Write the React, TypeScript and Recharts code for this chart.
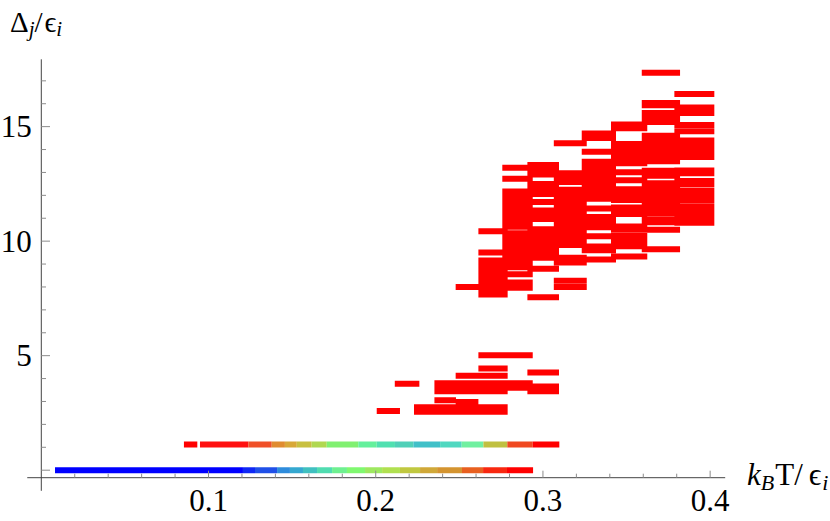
import { ComposedChart, XAxis, YAxis, Line, ReferenceLine } from 'recharts'

// tick values
const xTicks = [0.02, 0.04, 0.06, 0.08, 0.1, 0.12, 0.14, 0.16, 0.18, 0.2, 0.22, 0.24, 0.26, 0.28, 0.3, 0.32, 0.34, 0.36, 0.38, 0.4]
const xMajor = [0.1, 0.2, 0.3, 0.4]
const yTicks = [0, 1, 2, 3, 4, 5, 6, 7, 8, 9, 10, 11, 12, 13, 14, 15, 16, 17]
const yMajor = [0, 5, 10, 15]
const yLabelled = [5, 10, 15]

// temperature columns (bar left / right edge in kBT/eps)
const columnStart = [0.2006, 0.2114, 0.2229, 0.2351, 0.2478, 0.2614, 0.2757, 0.2907, 0.3065, 0.3232, 0.3407, 0.3591, 0.3786]
const columnEnd = [0.2145, 0.2261, 0.2351, 0.248, 0.2614, 0.2789, 0.2939, 0.3096, 0.3262, 0.3437, 0.3624, 0.382, 0.4025]

// gap levels per column
const colA = [2.58]
const colB = [3.77]
const colC = [2.75, 2.55]
const colD = [3.8, 3.6, 3.45, 3.05, 2.75, 2.55]
const colE = [8.0, 4.12, 3.8, 3.6, 3.45, 2.98, 2.75, 2.55]
const colF = [10.43, 9.5, 9.15, 8.93, 8.71, 8.49, 8.27, 8.05, 7.83, 7.67, 5.02, 4.44, 4.12, 3.8, 3.6, 3.45, 2.75, 2.55]
const colG = [13.2, 12.73, 12.17, 11.95, 11.73, 11.51, 11.29, 11.07, 10.85, 10.63, 10.35, 10.13, 9.91, 9.69, 9.47, 9.25, 9.03, 8.86, 8.55, 8.2, 7.97, 5.02, 3.8, 3.6]
const colH = [13.33, 13.1, 12.91, 12.5, 12.28, 12.06, 11.71, 11.34, 11.12, 10.97, 10.52, 10.3, 10.08, 9.86, 9.64, 9.42, 9.27, 8.8, 7.55, 4.27, 3.65, 3.45]
const colI = [14.27, 12.97, 12.75, 12.58, 12.24, 12.02, 11.8, 11.58, 11.36, 11.14, 10.92, 10.7, 10.48, 10.26, 10.04, 9.83, 9.27, 9.07, 8.27, 8.0]
const colJ = [14.7, 14.5, 13.9, 13.47, 13.25, 13.03, 12.81, 12.59, 12.37, 12.15, 11.93, 11.85, 11.43, 11.05, 10.83, 10.61, 10.21, 9.77, 9.6, 9.2]
const colK = [15.09, 14.93, 14.24, 14.02, 13.8, 13.58, 13.4, 13.01, 12.66, 12.27, 12.05, 11.8, 11.47, 11.25, 11.19, 10.64, 10.5, 10.22, 10.0, 9.78, 9.33]
const colL = [17.35, 16.03, 15.93, 15.59, 15.38, 15.2, 14.6, 14.38, 14.16, 13.94, 13.72, 13.49, 13.07, 12.86, 12.53, 12.31, 12.13, 11.87, 11.65, 11.43, 11.21, 10.93, 10.82, 10.5, 9.65]
const colM = [16.42, 15.84, 15.59, 15.07, 14.8, 14.4, 14.18, 13.96, 13.74, 13.67, 13.09, 12.97, 12.63, 12.5, 12.21, 11.99, 11.78, 11.5, 11.25, 11.0, 10.8]
const columnLevels = [colA, colB, colC, colD, colE, colF, colG, colH, colI, colJ, colK, colL, colM]

// ground level row (y = 0)
const row0Level = 0
const row0Edges = [0.0082, 0.1206, 0.1278, 0.141, 0.1487, 0.1565, 0.1649, 0.1739, 0.1828, 0.1936, 0.2038, 0.2145, 0.2265, 0.2367, 0.2516, 0.2642, 0.2785, 0.2941]
const row0Colors = ['#0000ff', '#0f28f5', '#2050e8', '#2e8cdc', '#35a8d0', '#40c0c0', '#50dcb0', '#6ef090', '#80f870', '#9ee860', '#b0e050', '#c0c840', '#d0a838', '#d49430', '#e86020', '#f82810', '#ff0000']

// first excited row
const row1Level = 1.12
const row1Start = [0.0853, 0.0949, 0.1238, 0.1378, 0.1457, 0.1528, 0.1617, 0.1707, 0.1896, 0.2006, 0.2115, 0.2225, 0.2385, 0.2514, 0.2644, 0.2787, 0.2939]
const row1End = [0.0933, 0.1238, 0.1378, 0.1457, 0.1528, 0.1617, 0.1707, 0.1896, 0.2006, 0.2115, 0.2225, 0.2385, 0.2514, 0.2644, 0.2787, 0.2939, 0.3098]
const row1Colors = ['#ff0000', '#ff1010', '#f05028', '#e08c30', '#d8a838', '#c8c040', '#b0d850', '#80f070', '#64f09c', '#50e0b0', '#50d0b8', '#40c0c8', '#50d8c0', '#70f0a0', '#c0c040', '#f04820', '#ff0000']

const redPoints = columnLevels.flatMap((levels, i) =>
  levels.flatMap((y) => [
    { x: columnStart[i], y },
    { x: columnEnd[i], y },
    { x: columnEnd[i], y: null },
  ])
)

const rowSegments = [
  ...row0Colors.map((color, i) => ({
    color,
    data: [{ x: row0Edges[i], y: row0Level }, { x: row0Edges[i + 1], y: row0Level }],
  })),
  ...row1Colors.map((color, i) => ({
    color,
    data: [{ x: row1Start[i], y: row1Level }, { x: row1End[i], y: row1Level }],
  })),
]

const serif = '"Liberation Serif", "Times New Roman", Times, "DejaVu Serif", serif'
const textStyle = { fontFamily: serif }
const axisColor = '#444'
const tickColor = '#8c8c8c'
const X_MIN = -0.0084
const X_MAX = 0.409
const Y_MIN = -0.328
const Y_BOTTOM = -0.9
const Y_MAX = 17.94

function XTick({ x, y, payload }: any) {
  const v = payload.value
  const major = xMajor.includes(v)
  return (
    <g>
      <line x1={x} x2={x} y1={y} y2={y - (major ? 7 : 4)} stroke={tickColor} />
      {major && (
        <text x={x} y={y + 33} textAnchor="middle" style={textStyle} fontSize={31} fill="#000">
          {v.toFixed(1)}
        </text>
      )}
    </g>
  )
}

function YTick({ x, y, payload }: any) {
  const v = payload.value
  const major = yMajor.includes(v)
  return (
    <g>
      <line x1={x} x2={x + (major ? 8.7 : 4.7)} y1={y} y2={y} stroke={tickColor} />
      {yLabelled.includes(v) && (
        <text x={x - 9.5} y={y + 10.5} textAnchor="end" style={textStyle} fontSize={31} fill="#000">
          {v}
        </text>
      )}
    </g>
  )
}

export default function App() {
  return (
    <div style={{ position: 'absolute', left: 0, top: 0, width: 830, height: 521, background: '#fff', fontFamily: serif }}>
      <ComposedChart width={830} height={521} margin={{ top: 59.3, right: 104.8, bottom: 0, left: 0 }}>
        <XAxis
          type="number"
          dataKey="x"
          domain={[0, X_MAX]}
          ticks={xTicks}
          interval={0}
          height={43.3}
          axisLine={false}
          tickLine={false}
          tickSize={0}
          tickMargin={0}
          tick={<XTick />}
          allowDataOverflow
        />
        <YAxis
          type="number"
          dataKey="y"
          domain={[Y_MIN, Y_MAX]}
          ticks={yTicks}
          interval={0}
          width={41.3}
          axisLine={false}
          tickLine={false}
          tickSize={0}
          tickMargin={0}
          tick={<YTick />}
          allowDataOverflow
        />
        <ReferenceLine
          segment={[{ x: X_MIN, y: Y_MIN }, { x: X_MAX, y: Y_MIN }]}
          stroke={axisColor}
          strokeWidth={1}
          ifOverflow="visible"
        />
        <ReferenceLine
          segment={[{ x: 0, y: Y_BOTTOM }, { x: 0, y: Y_MAX }]}
          stroke={axisColor}
          strokeWidth={1}
          ifOverflow="visible"
        />
        <Line
          data={redPoints}
          dataKey="y"
          stroke="#ff0000"
          strokeWidth={6}
          strokeLinecap="butt"
          dot={false}
          activeDot={false}
          connectNulls={false}
          isAnimationActive={false}
        />
        {rowSegments.map((seg, i) => (
          <Line
            key={i}
            data={seg.data}
            dataKey="y"
            stroke={seg.color}
            strokeWidth={6}
            strokeLinecap="butt"
            dot={false}
            activeDot={false}
            isAnimationActive={false}
          />
        ))}
      </ComposedChart>
      <svg width={830} height={521} style={{ position: 'absolute', left: 0, top: 0, pointerEvents: 'none' }}>
        <text x={10} y={31.7} style={textStyle} fontSize={29} fill="#000">
          <tspan>Δ</tspan>
          <tspan fontStyle="italic" fontSize={21} dy={4}>j</tspan>
          <tspan dy={-4}>/</tspan>
          <tspan dx={2}>ϵ</tspan>
          <tspan fontStyle="italic" fontSize={21} dy={4}>i</tspan>
        </text>
        <text x={747} y={485} style={textStyle} fontSize={31} fill="#000">
          <tspan fontStyle="italic">k</tspan>
          <tspan fontStyle="italic" fontSize={22} dy={5}>B</tspan>
          <tspan dy={-5} dx={1}>T/</tspan>
          <tspan dx={6}>ϵ</tspan>
          <tspan fontStyle="italic" fontSize={22} dy={5} dx={1}>i</tspan>
        </text>
      </svg>
    </div>
  )
}
